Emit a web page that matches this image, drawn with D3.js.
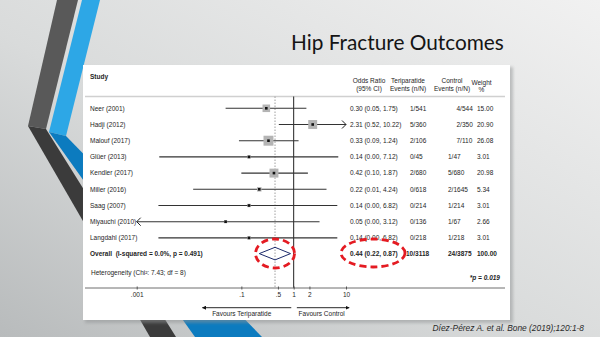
<!DOCTYPE html>
<html>
<head>
<meta charset="utf-8">
<script src="https://cdn.jsdelivr.net/npm/d3@7"></script>
<style>
  html, body { margin: 0; padding: 0; background: #d6d8d9; }
  svg { display: block; }
  text { font-family: "Liberation Sans", Arial, sans-serif; fill: #1e1e1e; }
</style>
</head>
<body>
<svg id="chart" width="600" height="337"></svg>
<script>
// Forest plot data: teriparatide vs control, hip fracture
const studies = ["Neer (2001)", "Hadji (2012)", "Malouf (2017)", "Glüer (2013)", "Kendler (2017)",
                 "Miller (2016)", "Saag (2007)", "Miyauchi (2010)", "Langdahl (2017)"];
const oddsRatio = [0.30, 2.31, 0.33, 0.14, 0.42, 0.22, 0.14, 0.05, 0.14];
const ciLow     = [0.05, 0.52, 0.09, 0.0027, 0.10, 0.012, 0.0026, 0.0008, 0.0026];
const ciHigh    = [1.75, 10.22, 1.24, 7.12, 1.87, 4.24, 6.82, 3.12, 6.82];
const teriEvents = ["1/541", "5/360", "2/106", "0/45", "2/680", "0/618", "0/214", "0/136", "0/218"];
const ctrlEvents = ["4/544", "2/350", "7/110", "1/47", "5/680", "2/1645", "1/214", "1/67", "1/218"];
const weights    = [15.00, 20.90, 26.08, 3.01, 20.98, 5.34, 3.01, 2.66, 3.01];

const overallOR = 0.44, overallLow = 0.22, overallHigh = 0.87;
const overallTeri = "10/3118", overallCtrl = "24/3875", overallWeight = 100.00;

const tickValues = [0.001, 0.1, 0.5, 1, 2, 10];
const tickLabels = [".001", ".1", ".5", "1", "2", "10"];

const svg = d3.select("#chart");
const defs = svg.append("defs");

// slide background
const bg = defs.append("linearGradient").attr("id", "bg")
  .attr("x1", "1").attr("y1", "0").attr("x2", "0").attr("y2", "1");
bg.append("stop").attr("offset", "0").attr("stop-color", "#f1f1f1");
bg.append("stop").attr("offset", "0.55").attr("stop-color", "#d9dbdb");
bg.append("stop").attr("offset", "1").attr("stop-color", "#b8bbbc");
svg.append("rect").attr("width", 600).attr("height", 337).attr("fill", "url(#bg)");

// chevron ribbons on the left
const ribbons = [
  { pts: [[57,0],[78,0],[46,129],[28,126]], fill: "#595959" },
  { pts: [[28,126],[46,129],[176,337],[150,337]], fill: "#3b3b3b" },
  { pts: [[82,0],[100,0],[66,136],[49,132]], fill: "#2da7e6" },
  { pts: [[49,132],[66,136],[262,337],[195,337]], fill: "#0c7bbf" }
];
svg.selectAll("polygon.ribbon").data(ribbons).join("polygon")
  .attr("class", "ribbon")
  .attr("points", d => d.pts.map(p => p.join(",")).join(" "))
  .attr("fill", d => d.fill);

// title
const title = svg.append("text").attr("x", 291).attr("y", 50)
  .style("font-family", "Lato, 'Open Sans', sans-serif")
  .style("font-size", "22px").style("fill", "#151515")
  .text("Hip Fracture Outcomes");
const tw = title.node().getComputedTextLength();
title.style("font-size", (22 * 213 / tw).toFixed(2) + "px");

// white panel with soft shadow
const sh = defs.append("filter").attr("id", "shadow").attr("x", "-5%").attr("y", "-5%")
  .attr("width", "110%").attr("height", "110%");
sh.append("feGaussianBlur").attr("stdDeviation", 1.5);
svg.append("rect").attr("x", 85).attr("y", 67).attr("width", 428).attr("height", 256)
  .attr("fill", "#8f9293").attr("opacity", 0.5).attr("filter", "url(#shadow)");
svg.append("rect").attr("x", 83).attr("y", 65).attr("width", 427).attr("height", 255)
  .attr("fill", "#ffffff");

// scales
const x = d3.scaleLog().domain([0.001, 10]).range([136.7, 346]);
const rowNames = studies.concat(["Overall"]);
const y = d3.scalePoint().domain(rowNames).range([108.3, 254.1]);

const fs = 6.5;
const topY = 96.5, axisY = 288;

// header
svg.append("text").attr("x", 90).attr("y", 79).style("font-size", fs + "px")
  .style("font-weight", "bold").text("Study");
const headers = [
  { x: 369, l1: "Odds Ratio", l2: "(95% CI)" },
  { x: 408, l1: "Teriparatide", l2: "Events (n/N)" },
  { x: 452, l1: "Control", l2: "Events (n/N)" },
  { x: 481.5, l1: "Weight", l2: "%" }
];
headers.forEach(h => {
  svg.append("text").attr("x", h.x).attr("y", h.x > 470 ? 85 : 83).attr("text-anchor", "middle")
    .style("font-size", fs + "px").text(h.l1);
  svg.append("text").attr("x", h.x).attr("y", h.x > 470 ? 92 : 91).attr("text-anchor", "middle")
    .style("font-size", fs + "px").text(h.l2);
});
svg.append("line").attr("x1", 85).attr("x2", 505).attr("y1", topY).attr("y2", topY)
  .attr("stroke", "#d0d0d0").attr("stroke-width", 1.5);

// reference lines: null effect and pooled estimate
svg.append("line").attr("x1", x(1)).attr("x2", x(1)).attr("y1", topY).attr("y2", axisY)
  .attr("stroke", "#222").attr("stroke-width", 1);
svg.append("line").attr("x1", x(overallOR)).attr("x2", x(overallOR)).attr("y1", topY).attr("y2", axisY)
  .attr("stroke", "#a0a0a0").attr("stroke-width", 1).attr("stroke-dasharray", "1.5,1.5");

// study rows
const fmt = d3.format(".2f");
const rows = studies.map((s, i) => ({
  name: s, or: oddsRatio[i], lo: ciLow[i], hi: ciHigh[i],
  teri: teriEvents[i], ctrl: ctrlEvents[i], w: weights[i], i
}));
const [dMin, dMax] = x.domain();

const g = svg.append("g");
rows.forEach(r => {
  const yy = y(r.name);
  svg.append("text").attr("x", 90).attr("y", yy).attr("dy", "0.35em")
    .style("font-size", fs + "px").text(r.name);

  const x1 = x(Math.max(r.lo, dMin)), x2 = x(Math.min(r.hi, dMax));
  g.append("line").attr("x1", x1).attr("x2", x2).attr("y1", yy).attr("y2", yy)
    .attr("stroke", "#333").attr("stroke-width", 1.1);
  if (r.lo < dMin) {
    g.append("path").attr("d", `M${x1 + 4},${yy - 4}L${x1},${yy}L${x1 + 4},${yy + 4}`)
      .attr("fill", "none").attr("stroke", "#222").attr("stroke-width", 1);
  }
  if (r.hi > dMax) {
    g.append("path").attr("d", `M${x2 - 4},${yy - 4}L${x2},${yy}L${x2 - 4},${yy + 4}`)
      .attr("fill", "none").attr("stroke", "#222").attr("stroke-width", 1);
  }
  const side = 1.95 * Math.sqrt(r.w);
  g.append("rect").attr("x", x(r.or) - side / 2).attr("y", yy - side / 2)
    .attr("width", side).attr("height", side).attr("fill", "#b4b4b4");
  g.append("rect").attr("x", x(r.or) - 1.3).attr("y", yy - 1.3)
    .attr("width", 2.6).attr("height", 2.6).attr("fill", "#111");

  svg.append("text").attr("x", 350).attr("y", yy).attr("dy", "0.35em").style("font-size", fs + "px")
    .text(`${fmt(r.or)} (${fmt(r.lo)}, ${fmt(r.hi)})`);
  svg.append("text").attr("x", 410).attr("y", yy).attr("dy", "0.35em").style("font-size", fs + "px")
    .text(r.teri);
  svg.append("text").attr("x", r.i < 3 ? 456.5 : 448).attr("y", yy).attr("dy", "0.35em")
    .style("font-size", fs + "px").text(r.ctrl);
  svg.append("text").attr("x", 477).attr("y", yy).attr("dy", "0.35em").style("font-size", fs + "px")
    .text(fmt(r.w));
});

// pooled estimate
const oy = y("Overall");
svg.append("text").attr("x", 90).attr("y", oy).attr("dy", "0.35em").style("font-size", fs + "px")
  .style("font-weight", "bold").attr("xml:space", "preserve")
  .text("Overall  (I-squared = 0.0%, p = 0.491)");
svg.append("path")
  .attr("d", `M${x(overallLow)},${oy - 0.5}L${x(overallOR)},${oy - 6.8}L${x(overallHigh)},${oy - 0.5}L${x(overallOR)},${oy + 5.8}Z`)
  .attr("fill", "none").attr("stroke", "#1c2a6b").attr("stroke-width", 1);
svg.append("text").attr("x", 350).attr("y", oy).attr("dy", "0.35em").style("font-size", fs + "px")
  .style("font-weight", "bold").text(`${fmt(overallOR)} (${fmt(overallLow)}, ${fmt(overallHigh)})`);
svg.append("text").attr("x", 406).attr("y", oy).attr("dy", "0.35em").style("font-size", fs + "px")
  .style("font-weight", "bold").text(overallTeri);
svg.append("text").attr("x", 448).attr("y", oy).attr("dy", "0.35em").style("font-size", fs + "px")
  .style("font-weight", "bold").text(overallCtrl);
svg.append("text").attr("x", 477).attr("y", oy).attr("dy", "0.35em").style("font-size", fs + "px")
  .style("font-weight", "bold").text(fmt(overallWeight));

svg.append("text").attr("x", 91).attr("y", 273).attr("dy", "0.35em").style("font-size", fs + "px")
  .text("Heterogeneity (Chi²: 7.43; df = 8)");
svg.append("text").attr("x", 500).attr("y", 278).attr("dy", "0.35em").attr("text-anchor", "end")
  .style("font-size", fs + "px").style("font-weight", "bold").style("font-style", "italic")
  .text("*p = 0.019");

// axis
svg.append("line").attr("x1", 85).attr("x2", 505).attr("y1", axisY).attr("y2", axisY)
  .attr("stroke", "#6e6e6e").attr("stroke-width", 1);
const axis = d3.axisBottom(x).tickValues(tickValues)
  .tickFormat((d, i) => tickLabels[i]).tickSize(3).tickPadding(2.5);
const ax = svg.append("g").attr("transform", `translate(0,${axisY - 1.5})`).call(axis);
ax.select(".domain").remove();
ax.selectAll(".tick line").attr("stroke", "#555");
ax.selectAll(".tick text").style("font-size", fs + "px").attr("fill", "#1e1e1e")
  .style("font-family", "'Liberation Sans', Arial, sans-serif");

// direction labels
const arrowY = 307.7;
const ah = defs.append("marker").attr("id", "ah").attr("viewBox", "0 0 10 10")
  .attr("refX", 9).attr("refY", 5).attr("markerWidth", 4.5).attr("markerHeight", 4.5)
  .attr("orient", "auto-start-reverse");
ah.append("path").attr("d", "M0,0L10,5L0,10Z").attr("fill", "#111");
svg.append("line").attr("x1", x(0.9)).attr("x2", x(0.018)).attr("y1", arrowY).attr("y2", arrowY)
  .attr("stroke", "#111").attr("stroke-width", 0.9).attr("marker-end", "url(#ah)");
svg.append("line").attr("x1", x(1.15)).attr("x2", x(11.5)).attr("y1", arrowY).attr("y2", arrowY)
  .attr("stroke", "#111").attr("stroke-width", 0.9).attr("marker-end", "url(#ah)");
svg.append("text").attr("x", 241.7).attr("y", 313.5).attr("dy", "0.35em").attr("text-anchor", "middle")
  .style("font-size", fs + "px").text("Favours Teriparatide");
svg.append("text").attr("x", 321.7).attr("y", 313.5).attr("dy", "0.35em").attr("text-anchor", "middle")
  .style("font-size", fs + "px").text("Favours Control");

// highlight rings around the pooled result
const rings = [
  { cx: x(overallOR), cy: 253.5, rx: 19.5, ry: 14.5 },
  { cx: 373, cy: 253, rx: 32, ry: 14 }
];
svg.selectAll("ellipse.ring").data(rings).join("ellipse")
  .attr("class", "ring")
  .attr("cx", d => d.cx).attr("cy", d => d.cy).attr("rx", d => d.rx).attr("ry", d => d.ry)
  .attr("fill", "none").attr("stroke", "#e41b22").attr("stroke-width", 2.8)
  .attr("stroke-dasharray", "7,4");

// source
svg.append("text").attr("x", 584).attr("y", 328).attr("dy", "0.35em").attr("text-anchor", "end")
  .style("font-size", "8.4px").style("font-style", "italic").style("fill", "#2a2a2a")
  .text("Díez-Pérez A. et al. Bone (2019);120:1-8");
</script>
</body>
</html>
